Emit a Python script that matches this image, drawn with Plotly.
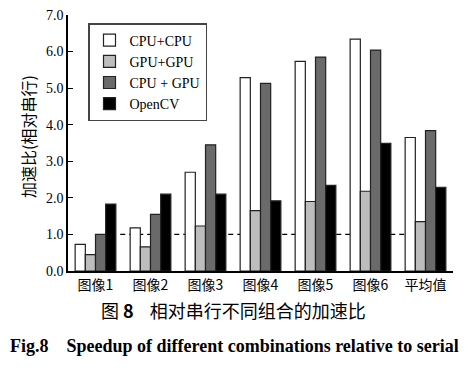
import plotly.graph_objects as go

categories = ["图像1", "图像2", "图像3", "图像4", "图像5", "图像6", "平均值"]
cpu_cpu = [0.73, 1.18, 2.70, 5.29, 5.73, 6.34, 3.65]
gpu_gpu = [0.45, 0.66, 1.23, 1.65, 1.90, 2.18, 1.35]
cpu_gpu = [1.00, 1.55, 3.45, 5.13, 5.85, 6.04, 3.84]
opencv = [1.83, 2.10, 2.10, 1.92, 2.34, 3.49, 2.29]
series_names = ["CPU+CPU", "GPU+GPU", "CPU + GPU", "OpenCV"]
series_colors = ["#ffffff", "#bdbdbd", "#6a6a6a", "#000000"]
y_ticks = [0, 1, 2, 3, 4, 5, 6, 7]

serif = "Liberation Serif, Times New Roman, serif"
cjk = "Noto Sans CJK SC"

# page body has an 8px margin; figure sized so it fills the 474x372 window
W, H = 458, 356
L, R, T, B = 60, 13, 7, 93
pw, ph = W - L - R, H - T - B


def px(x):  # screen x -> paper x
    return (x - 8 - L) / pw


def py(y):  # screen y -> paper y
    return (H - B - (y - 8)) / ph


fig = go.Figure()
for name, vals, col in zip(series_names, [cpu_cpu, gpu_gpu, cpu_gpu, opencv], series_colors):
    fig.add_trace(go.Bar(
        x=categories, y=vals, name=name,
        marker=dict(color=col, line=dict(color="#222222", width=1.2)),
    ))

fig.add_shape(type="line", xref="x", yref="y", x0=0.45, x1=6.0, y0=1, y1=1,
              line=dict(color="black", width=1.2, dash="5px,4px"), layer="below")

fig.update_layout(
    width=W, height=H,
    margin=dict(l=L, r=R, t=T, b=B, autoexpand=False),
    paper_bgcolor="white", plot_bgcolor="white",
    barmode="group", bargap=0.26, bargroupgap=0,
    showlegend=True,
    legend=dict(x=px(88), y=py(23), xanchor="left", yanchor="top",
                bordercolor="#444444", borderwidth=1.5, bgcolor="white",
                font=dict(family=serif, size=14, color="black"),
                tracegroupgap=0, itemwidth=30),
    font=dict(family=serif, color="black"),
)
fig.update_yaxes(range=[0, 7], tickvals=y_ticks, tickformat=".1f", automargin=False,
                 ticks="inside", ticklen=5, tickwidth=1.2, tickcolor="black",
                 ticklabeloverflow="allow",
                 showline=True, linecolor="black", linewidth=1.5, showgrid=False,
                 zeroline=False,
                 tickfont=dict(family=serif, size=14, color="black"))
fig.update_xaxes(range=[-0.5, 6.5], showline=True, linecolor="black", linewidth=1.5,
                 ticks="", showgrid=False, automargin=False,
                 tickfont=dict(family=cjk, size=14, color="black"))

fig.add_annotation(text="加速比(相对串行)", xref="paper", yref="paper",
                   x=px(28), y=py(137), textangle=-90,
                   xanchor="center", yanchor="middle", showarrow=False,
                   font=dict(family=cjk, size=16, color="black"))
fig.add_annotation(text="图 <b>8</b>\u00a0\u00a0\u00a0\u00a0相对串行不同组合的加速比", xref="paper", yref="paper",
                   x=px(233), y=py(310), xanchor="center", yanchor="middle", showarrow=False,
                   font=dict(family=cjk, size=18, color="black"))
fig.add_annotation(text="<b>Fig.8\u00a0\u00a0\u00a0\u00a0Speedup of different combinations relative to serial</b>",
                   xref="paper", yref="paper", x=px(234), y=py(346),
                   xanchor="center", yanchor="middle",
                   showarrow=False, font=dict(family=serif, size=18, color="black"))

fig.write_html("out.html")
